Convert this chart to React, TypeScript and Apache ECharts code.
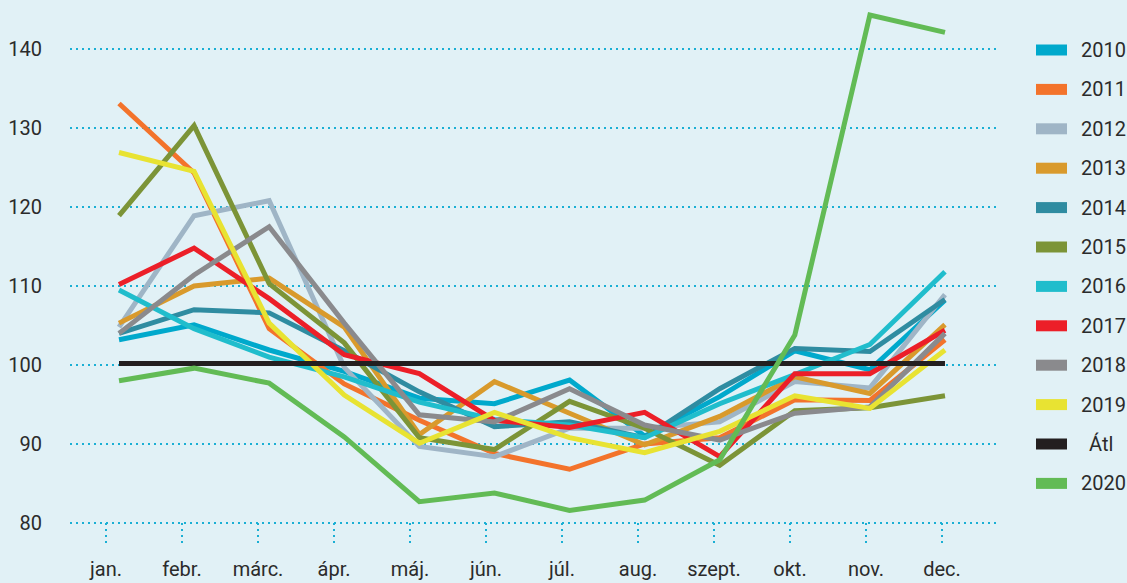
import React, { useEffect, useRef } from "react";
import * as echarts from "echarts";

const months = ["jan.", "febr.", "márc.", "ápr.", "máj.", "jún.", "júl.", "aug.", "szept.", "okt.", "nov.", "dec."];

const s2010 = [103.2, 105.1, 101.9, 99.2, 95.8, 95.1, 98.1, 91.0, 96.0, 101.8, 99.4, 108.2];
const s2011 = [133.1, 124.3, 104.6, 97.6, 93.0, 88.8, 86.8, 90.0, 90.8, 95.6, 95.5, 103.2];
const s2012 = [104.8, 118.9, 120.8, 99.7, 89.7, 88.4, 92.0, 92.0, 92.8, 97.9, 97.1, 108.9];
const s2013 = [105.3, 110.0, 111.0, 104.8, 91.2, 97.9, 93.9, 89.9, 93.5, 98.5, 96.4, 105.1];
const s2014 = [104.0, 107.0, 106.6, 101.8, 96.6, 92.2, 92.8, 90.8, 97.0, 102.1, 101.7, 108.3];
const s2015 = [118.9, 130.3, 110.3, 102.8, 90.8, 89.3, 95.4, 92.0, 87.3, 94.2, 94.6, 96.1];
const s2016 = [109.5, 104.6, 101.0, 98.5, 95.3, 93.1, 92.4, 90.8, 95.1, 98.8, 102.6, 111.8];
const s2017 = [110.2, 114.8, 108.4, 101.3, 98.9, 93.0, 92.1, 94.0, 88.4, 98.9, 98.9, 104.4];
const s2018 = [104.0, 111.4, 117.5, 105.3, 93.7, 92.8, 97.0, 92.4, 90.5, 93.9, 94.7, 104.0];
const s2019 = [126.9, 124.5, 105.3, 96.2, 90.1, 94.0, 90.8, 88.9, 91.6, 96.1, 94.5, 101.9];
const sAtl = [100.2, 100.2, 100.2, 100.2, 100.2, 100.2, 100.2, 100.2, 100.2, 100.2, 100.2, 100.2];
const s2020 = [98.0, 99.6, 97.7, 90.9, 82.7, 83.8, 81.6, 82.9, 88.0, 103.8, 144.3, 142.1];

const seriesNames = ["2010", "2011", "2012", "2013", "2014", "2015", "2016", "2017", "2018", "2019", "Átl", "2020"];
const seriesValues = [s2010, s2011, s2012, s2013, s2014, s2015, s2016, s2017, s2018, s2019, sAtl, s2020];
const seriesColors = [
  "#00a9cc", "#f3732b", "#9fb5c6", "#d99a2c", "#2f8ca1", "#7c9437",
  "#20bdcc", "#ec1f28", "#8a8a8d", "#e8e332", "#231f20", "#62bb55",
];

const yTicks = { min: 80, max: 140, interval: 10 };

const FONT = "Roboto";
const DOT = "#1aafd4";

export default function App() {
  const ref = useRef<HTMLDivElement>(null);
  useEffect(() => {
    document.body.style.margin = "0";
    const chart = echarts.init(ref.current!, null, { renderer: "svg" });
    const option: any = {
      animation: false,
      backgroundColor: "#e1f1f6",
      grid: [
        { left: 70, right: 129, top: 49, bottom: 60 },
        { left: 106, right: 185, top: 49, bottom: 60 },
      ],
      legend: {
        orient: "vertical",
        left: 1036,
        top: 40,
        padding: 0,
        itemWidth: 31,
        itemHeight: 11,
        itemGap: 19.4,
        icon: "rect",
        data: seriesNames,
        formatter: (name: string) => (name === "Átl" ? "{a|" + name + "}" : name),
        textStyle: {
          fontFamily: FONT,
          fontSize: 20,
          lineHeight: 20,
          color: "#2b2b2b",
          padding: [0, 0, 0, 9],
          rich: {
            a: { fontFamily: FONT, fontSize: 20, lineHeight: 20, color: "#2b2b2b", padding: [0, 0, 0, 8] },
          },
        },
      },
      xAxis: [
        {
          type: "value",
          gridIndex: 0,
          min: -0.6526,
          max: 11.706,
          show: false,
        },
        {
          type: "category",
          gridIndex: 1,
          data: months,
          boundaryGap: false,
          axisLine: { show: false },
          axisTick: {
            show: true,
            length: 20,
            lineStyle: { color: DOT, width: 2, type: [2, 4] },
          },
          axisLabel: {
            margin: 36,
            fontFamily: FONT,
            fontSize: 20,
            color: "#2b2b2b",
          },
          splitLine: { show: false },
        },
      ],
      yAxis: [
        {
          type: "value",
          gridIndex: 0,
          min: yTicks.min,
          max: yTicks.max,
          interval: yTicks.interval,
          axisLine: { show: false },
          axisTick: { show: false },
          axisLabel: {
            margin: 28,
            fontFamily: FONT,
            fontSize: 20,
            color: "#2b2b2b",
            padding: [0, 0, 7, 0],
          },
          splitLine: {
            show: true,
            lineStyle: { color: DOT, width: 2, type: [2, 4] },
          },
        },
        {
          type: "value",
          gridIndex: 1,
          min: yTicks.min,
          max: yTicks.max,
          show: false,
        },
      ],
      series: seriesNames.map((name, k) => ({
        name,
        type: "line",
        xAxisIndex: 0,
        yAxisIndex: 0,
        data: seriesValues[k].map((v, i) => [i, v]),
        showSymbol: false,
        symbol: "none",
        clip: false,
        color: seriesColors[k],
        itemStyle: { color: seriesColors[k] },
        lineStyle: { color: seriesColors[k], width: 5, join: "miter", cap: "butt" },
        emphasis: { disabled: true },
      })),
    };
    chart.setOption(option);
    return () => chart.dispose();
  }, []);
  return <div ref={ref} style={{ position: "fixed", left: 0, top: 0, width: 1127, height: 583 }} />;
}
